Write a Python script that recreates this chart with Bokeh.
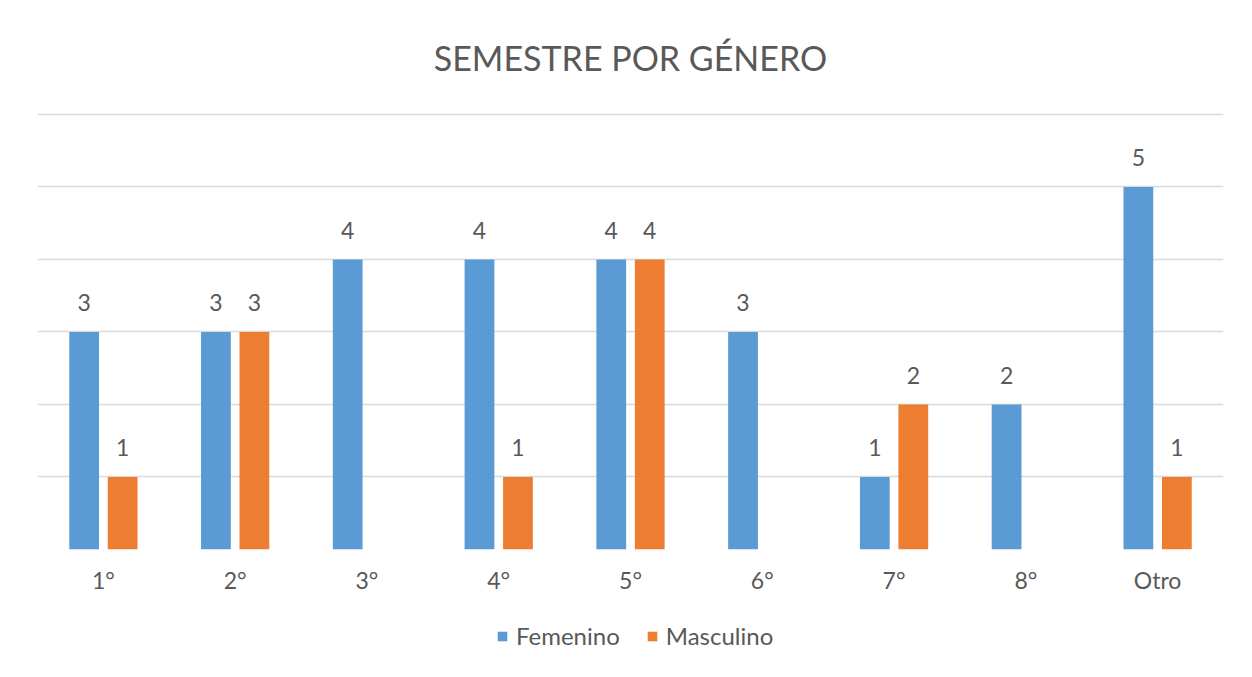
from bokeh.plotting import figure
from bokeh.models import ColumnDataSource, FactorRange, Legend, LegendItem, FixedTicker
from bokeh.layouts import column
from bokeh.transform import dodge
from bokeh.core.properties import value
from bokeh.embed import file_html
from bokeh.resources import INLINE

categories = ["1°", "2°", "3°", "4°", "5°", "6°", "7°", "8°", "Otro"]
femenino = [3, 3, 4, 4, 4, 3, 1, 2, 5]
masculino = [1, 3, 0, 1, 4, 0, 2, 0, 1]
series_names = ["Femenino", "Masculino"]
title_text = "SEMESTRE POR GÉNERO"
y_ticks = [0, 1, 2, 3, 4, 5, 6]

BLUE = "#5B9BD5"
ORANGE = "#ED7D31"
TEXT = "#595959"
GRID = "#D9D9D9"
FONT = "Lato"

src = ColumnDataSource(dict(cat=categories, fem=femenino, mas=masculino))

fem_lab = ColumnDataSource(dict(
    cat=[c for c, v in zip(categories, femenino) if v],
    v=[v for v in femenino if v],
    t=[str(v) for v in femenino if v]))
mas_lab = ColumnDataSource(dict(
    cat=[c for c, v in zip(categories, masculino) if v],
    v=[v for v in masculino if v],
    t=[str(v) for v in masculino if v]))

W = 1244
p = figure(x_range=FactorRange(*categories, range_padding=0), y_range=(0, 6.04),
           width=W, height=612, output_backend="svg", toolbar_location=None,
           min_border_left=37, min_border_right=21, min_border_top=110, min_border_bottom=63)

p.title.text = title_text
p.title.align = "center"
p.title.text_font = FONT
p.title.text_font_size = "34px"
p.title.text_font_style = "normal"
p.title.text_color = TEXT
p.title.standoff = 68

off = 0.146
w = 0.226
r1 = p.vbar(x=dodge("cat", -off, range=p.x_range), top="fem", width=w, source=src,
            fill_color=BLUE, line_color=None)
r2 = p.vbar(x=dodge("cat", off, range=p.x_range), top="mas", width=w, source=src,
            fill_color=ORANGE, line_color=None)

for s, o in ((fem_lab, -off), (mas_lab, off)):
    p.text(x=dodge("cat", o, range=p.x_range), y="v", text="t", source=s,
           text_font=value(FONT), text_font_size="23px", text_color=TEXT,
           text_align="center", text_baseline="alphabetic", y_offset=-29)

p.yaxis.visible = False
p.yaxis.ticker = FixedTicker(ticks=y_ticks)
p.xaxis.axis_line_color = None
p.xaxis.major_tick_line_color = None
p.xaxis.minor_tick_line_color = None
p.xaxis.major_label_text_font = FONT
p.xaxis.major_label_text_font_size = "23px"
p.xaxis.major_label_text_color = TEXT
p.xaxis.major_label_standoff = 10
p.xgrid.grid_line_color = None
p.ygrid.ticker = FixedTicker(ticks=y_ticks)
p.ygrid.grid_line_color = GRID
p.ygrid.grid_line_width = 1.3
p.outline_line_color = None

# legend strip below the chart (swatch renderers have zero height, so draw nothing)
lg = figure(width=W, height=57, output_backend="svg", toolbar_location=None,
            x_range=(0, 1), y_range=(0, 1), min_border=0)
lg.axis.visible = False
lg.grid.grid_line_color = None
lg.outline_line_color = None
swatch = ColumnDataSource(dict(x=[0.5], top=[0]))
l1 = lg.vbar(x="x", top="top", width=0.0, source=swatch, fill_color=BLUE, line_color=None)
l2 = lg.vbar(x="x", top="top", width=0.0, source=swatch, fill_color=ORANGE, line_color=None)
legend = Legend(items=[LegendItem(label=series_names[0], renderers=[l1]),
                       LegendItem(label=series_names[1], renderers=[l2])],
                orientation="horizontal", location=(459, 19),
                label_text_font=FONT, label_text_font_size="24px", label_text_color=TEXT,
                glyph_width=12, glyph_height=12, label_standoff=8, spacing=26,
                label_height=24, padding=0, margin=0, border_line_color=None,
                background_fill_alpha=0)
lg.add_layout(legend, "center")

layout = column(p, lg, spacing=0)
open("out.html", "w").write(file_html(layout, INLINE))
